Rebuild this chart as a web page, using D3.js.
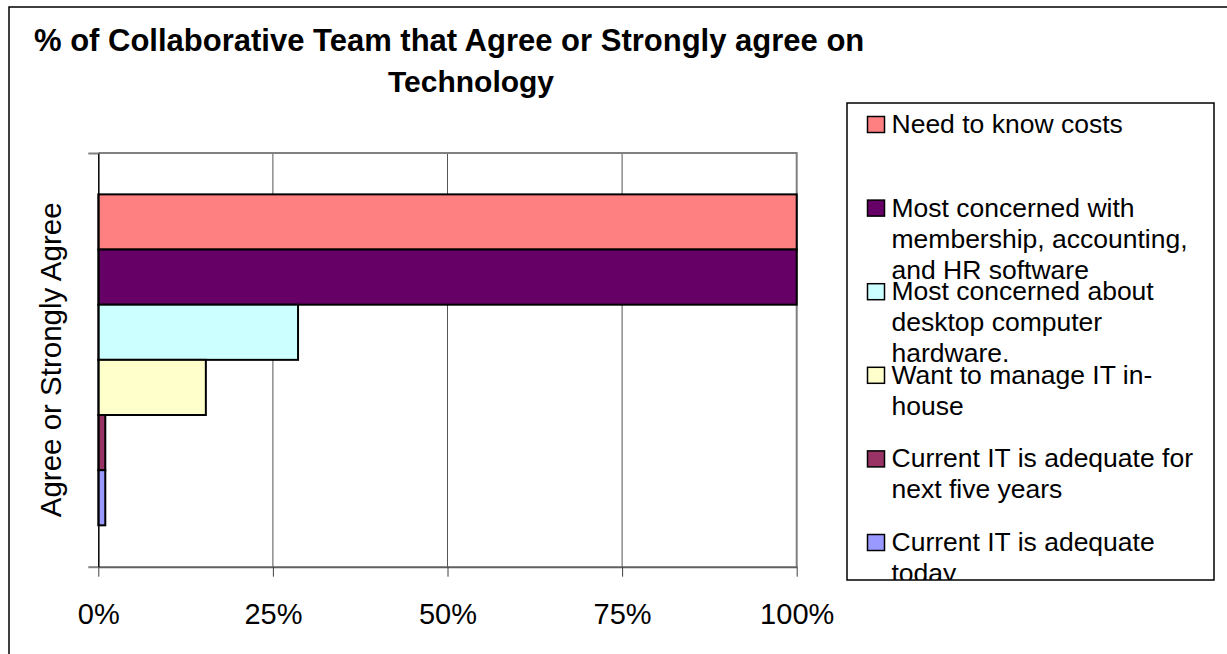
<!DOCTYPE html>
<html>
<head>
<meta charset="utf-8">
<script src="https://cdn.jsdelivr.net/npm/d3@7"></script>
<style>
  html, body { margin: 0; padding: 0; background: #fff; }
  svg { display: block; font-family: "Liberation Sans", Arial, sans-serif; }
</style>
</head>
<body>
<svg id="chart" width="1227" height="654"></svg>
<script>
// Survey results: one category, six statements
const categories = ["Agree or Strongly Agree"];
const seriesNames = [
  "Need to know costs",
  "Most concerned with membership, accounting, and HR software",
  "Most concerned about desktop computer hardware.",
  "Want to manage IT in-house",
  "Current IT is adequate for next five years",
  "Current IT is adequate today"
];
const seriesValues = [100, 100, 28.6, 15.4, 1, 1];
const seriesColors = ["#FF8080", "#660066", "#CCFFFF", "#FFFFCC", "#993366", "#9999FF"];
// Legend text as it wraps inside the legend box
const legendLines = [
  ["Need to know costs"],
  ["Most concerned with", "membership, accounting,", "and HR software"],
  ["Most concerned about", "desktop computer", "hardware."],
  ["Want to manage IT in-", "house"],
  ["Current IT is adequate for", "next five years"],
  ["Current IT is adequate", "today"]
];
const xTicks = [0, 25, 50, 75, 100];
const titleLines = ["% of Collaborative Team that Agree or Strongly agree on", "Technology"];

const svg = d3.select("#chart");

// Outer chart frame (runs past the right and bottom edges)
svg.append("rect")
  .attr("x", 9).attr("y", 7)
  .attr("width", 1240).attr("height", 670)
  .attr("fill", "#fff").attr("stroke", "#000").attr("stroke-width", 1.5);

// Title
svg.append("text")
  .attr("x", 34).attr("y", 51)
  .attr("font-size", 31).attr("font-weight", "bold")
  .text(titleLines[0]);
svg.append("text")
  .attr("x", 471).attr("y", 92)
  .attr("text-anchor", "middle")
  .attr("font-size", 30).attr("font-weight", "bold")
  .text(titleLines[1]);

// Plot area
const plot = { left: 98.3, right: 796.7, top: 153, bottom: 566.7 };

const x = d3.scaleLinear().domain([0, 100]).range([plot.left, plot.right]);
const yCat = d3.scaleBand().domain(categories)
  .range([plot.top, plot.bottom]).paddingInner(0).paddingOuter(0.125);
const ySer = d3.scaleBand().domain(seriesNames)
  .range([0, yCat.bandwidth()]).padding(0);

// Vertical gridlines
svg.append("g")
  .selectAll("line")
  .data(xTicks.filter(t => t > 0 && t < 100))
  .join("line")
  .attr("x1", d => x(d)).attr("x2", d => x(d))
  .attr("y1", plot.top).attr("y2", plot.bottom)
  .attr("stroke", "#555").attr("stroke-width", 1);

// Plot area border (top and right)
svg.append("path")
  .attr("d", `M${plot.left},${plot.top}H${plot.right}V${plot.bottom}`)
  .attr("fill", "none").attr("stroke", "#808080").attr("stroke-width", 2);

// X axis
const xAxis = d3.axisBottom(x)
  .tickValues(xTicks)
  .tickFormat(d => d + "%")
  .tickSizeInner(10).tickSizeOuter(0).tickPadding(27);
const gx = svg.append("g")
  .attr("transform", `translate(0,${plot.bottom})`)
  .call(xAxis);
gx.select(".domain").attr("stroke", "#606060").attr("stroke-width", 2);
gx.selectAll(".tick line").attr("stroke", "#404040").attr("stroke-width", 1);
gx.selectAll(".tick text")
  .attr("font-family", "Liberation Sans, Arial, sans-serif")
  .attr("font-size", 29).attr("fill", "#000")
  .attr("dy", "0.71em");

// Bars
svg.append("g")
  .selectAll("rect")
  .data(seriesNames.map((name, i) => ({ name, value: seriesValues[i], color: seriesColors[i] })))
  .join("rect")
  .attr("x", x(0))
  .attr("y", d => yCat(categories[0]) + ySer(d.name))
  .attr("width", d => x(d.value) - x(0))
  .attr("height", ySer.bandwidth())
  .attr("fill", d => d.color)
  .attr("stroke", "#000").attr("stroke-width", 2);

// Category axis: line and boundary ticks
const yAxis = d3.axisLeft(d3.scaleLinear().domain([0, 1]).range([plot.bottom, plot.top]))
  .tickValues([0, 1]).tickFormat("").tickSizeInner(10).tickSizeOuter(0);
const gy = svg.append("g")
  .attr("transform", `translate(${plot.left},0)`)
  .call(yAxis);
gy.select(".domain").attr("stroke", "#000").attr("stroke-width", 1.5);
gy.selectAll(".tick line").attr("stroke", "#808080").attr("stroke-width", 2);

// Category label
svg.append("text")
  .attr("transform", `translate(61,${(plot.top + plot.bottom) / 2}) rotate(-90)`)
  .attr("text-anchor", "middle")
  .attr("font-size", 29.5)
  .text(categories[0]);

// Legend
const legend = { left: 847, top: 103, right: 1214, bottom: 580 };
svg.append("defs").append("clipPath").attr("id", "legend-clip")
  .append("rect")
  .attr("x", legend.left).attr("y", legend.top)
  .attr("width", legend.right - legend.left).attr("height", legend.bottom - legend.top);

svg.append("rect")
  .attr("x", legend.left).attr("y", legend.top)
  .attr("width", legend.right - legend.left).attr("height", legend.bottom - legend.top)
  .attr("fill", "#fff").attr("stroke", "#000").attr("stroke-width", 1.5);

const entryStep = 83.6, lineStep = 31, firstBaseline = 133;
const lg = svg.append("g").attr("clip-path", "url(#legend-clip)");
const entries = lg.selectAll("g.entry")
  .data(seriesNames.map((name, i) => ({ name, color: seriesColors[i], lines: legendLines[i] })))
  .join("g").attr("class", "entry")
  .attr("transform", (d, i) => `translate(0,${firstBaseline + i * entryStep})`);
entries.append("rect")
  .attr("x", 867.5).attr("y", -16.5)
  .attr("width", 17).attr("height", 16)
  .attr("fill", d => d.color)
  .attr("stroke", "#000").attr("stroke-width", 1.5);
entries.append("text")
  .attr("x", 891.5)
  .attr("font-size", 26.5)
  .selectAll("tspan")
  .data(d => d.lines)
  .join("tspan")
  .attr("x", 891.5)
  .attr("y", (d, i) => i * lineStep)
  .text(d => d);
</script>
</body>
</html>
